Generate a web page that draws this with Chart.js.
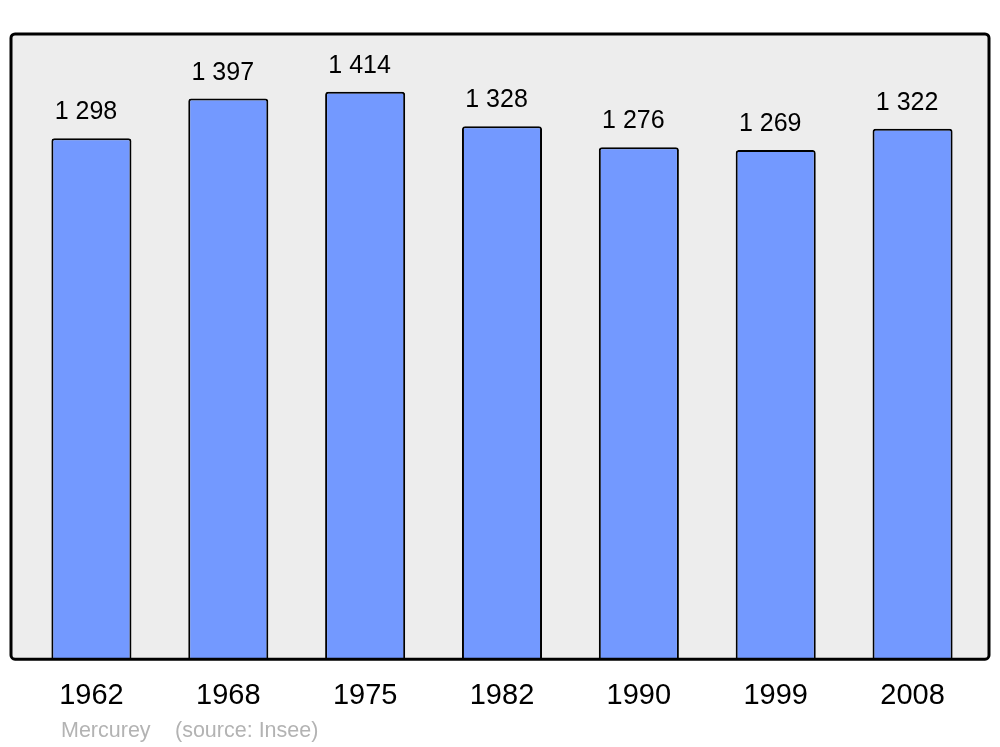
<!DOCTYPE html>
<html>
<head>
<meta charset="utf-8">
<title>Mercurey</title>
<script src="https://cdn.jsdelivr.net/npm/chart.js@4"></script>
<style>
    body { margin: 0; background: #ffffff; }
    #wrap { width: 1000px; height: 747px; position: relative; }
</style>
</head>
<body>
<div id="wrap"><canvas id="popChart"></canvas></div>
<script>
const years = ['1962', '1968', '1975', '1982', '1990', '1999', '2008'];
const population = [1298, 1397, 1414, 1328, 1276, 1269, 1322];
const yMax = 1558;
const caption = ['Mercurey', '(source: Insee)'];

function formatNumber(n) {
    return String(n).replace(/\B(?=(\d{3})+(?!\d))/g, ' ');
}

// grey panel behind the bars, border drawn on top of them
const panel = {
    id: 'panel',
    beforeDatasetsDraw(chart) {
        const a = chart.chartArea;
        const ctx = chart.ctx;
        ctx.save();
        ctx.fillStyle = '#ededed';
        ctx.beginPath();
        ctx.roundRect(a.left - 12, a.top, a.width + 20, a.height, 4);
        ctx.fill();
        ctx.restore();
    },
    afterDatasetsDraw(chart) {
        const a = chart.chartArea;
        const ctx = chart.ctx;
        ctx.save();
        ctx.strokeStyle = '#000000';
        ctx.lineWidth = 3;
        ctx.beginPath();
        ctx.roundRect(a.left - 12, a.top, a.width + 20, a.height, 4);
        ctx.stroke();

        // value labels above bars
        const meta = chart.getDatasetMeta(0);
        ctx.fillStyle = '#000000';
        ctx.font = '25px "Liberation Sans", Arial, sans-serif';
        ctx.textAlign = 'center';
        ctx.textBaseline = 'alphabetic';
        meta.data.forEach((bar, i) => {
            ctx.fillText(formatNumber(population[i]), bar.x - 5.5, bar.y - 19);
        });

        // caption
        ctx.fillStyle = '#b3b3b3';
        ctx.font = '21.5px "Liberation Sans", Arial, sans-serif';
        ctx.textAlign = 'left';
        ctx.fillText(caption[0], 61, 737);
        ctx.fillText(caption[1], 175, 737);
        ctx.restore();
    }
};

const ctx = document.getElementById('popChart').getContext('2d');
const popChart = new Chart(ctx, {
    type: 'bar',
    data: {
        labels: years,
        datasets: [{
            data: population,
            backgroundColor: '#7399ff',
            borderColor: '#000000',
            borderWidth: 2,
            borderRadius: { topLeft: 3, topRight: 3 },
            borderSkipped: 'bottom',
            barPercentage: 0.585,
            categoryPercentage: 1
        }]
    },
    options: {
        responsive: true,
        maintainAspectRatio: false,
        animation: false,
        layout: {
            padding: { left: 23, right: 19, top: 34, bottom: 15 }
        },
        plugins: {
            legend: { display: false },
            tooltip: { enabled: false }
        },
        scales: {
            x: {
                grid: { display: false, drawTicks: false },
                border: { display: false },
                ticks: {
                    color: '#000000',
                    padding: 19,
                    font: { family: '"Liberation Sans", Arial, sans-serif', size: 29 }
                }
            },
            y: {
                display: false,
                min: 0,
                max: yMax
            }
        }
    },
    plugins: [panel]
});
</script>
</body>
</html>
